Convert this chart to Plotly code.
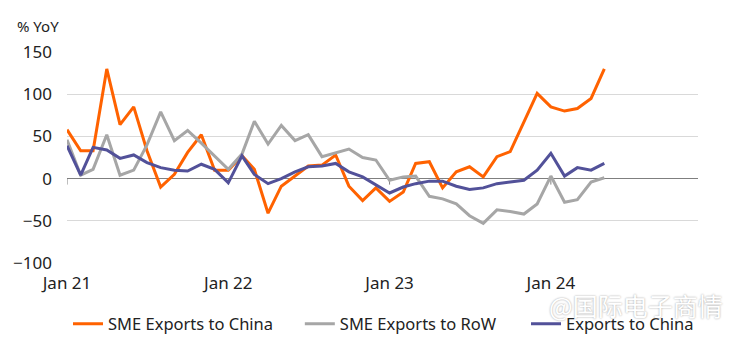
import pandas as pd
import plotly.graph_objects as go

# Monthly observations, Jan 2021 - May 2024 (% YoY)
months = pd.date_range("2021-01-01", periods=41, freq="MS")

sme_china = [58, 33, 33, 130, 64, 85, 33, -10, 5, 31, 52, 10, 10, 27, 11, -41,
             -9, 3, 15, 16, 28, -9, -26, -11, -27, -16, 18, 20, -11, 8, 14, 2,
             26, 32, 68, 101, 85, 80, 83, 95, 130]
sme_row = [46, 4, 11, 52, 4, 10, 40, 79, 45, 57, 42, 27, 11, 29, 68, 41,
           63, 45, 52, 26, 31, 35, 25, 22, -2, 2, 3, -21, -24, -30, -44, -53,
           -37, -39, -42, -30, 3, -28, -25, -4, 1]
exports_china = [39, 4, 37, 34, 24, 28, 19, 13, 10, 9, 17, 11, -5, 27, 5, -6,
                 0, 8, 14, 15, 18, 8, 2, -7, -17, -10, -6, -3, -3, -9, -13, -11,
                 -6, -4, -2, 10, 30, 3, 13, 10, 18]

tick_dates = ["2021-01-01", "2022-01-01", "2023-01-01", "2024-01-01"]
tick_text = ["Jan 21", "Jan 22", "Jan 23", "Jan 24"]
y_ticks = [-100, -50, 0, 50, 100, 150]

FONT = "Noto Sans"
series = [
    ("SME Exports to China", sme_china, "#FF6200", "legend", 0.0914),
    ("SME Exports to RoW", sme_row, "#A6A6A6", "legend2", 0.403),
    ("Exports to China", exports_china, "#525199", "legend3", 0.707),
]

fig = go.Figure()
legend_layouts = {}
for name, vals, color, leg, lx in series:
    fig.add_trace(go.Scatter(
        x=months, y=vals, name=name, mode="lines", legend=leg,
        line=dict(color=color, width=3),
    ))
    # one single-entry legend per series, spaced along the bottom
    legend_layouts[leg] = dict(
        orientation="h", xref="container", x=lx, xanchor="left",
        yref="container", y=0.055, yanchor="middle",
        font=dict(size=16.5, color="#222222"), itemwidth=30,
    )

# small downward ticks on the zero line at each January
for d in tick_dates:
    fig.add_shape(
        type="line", xref="x", yref="y", x0=d, x1=d,
        ysizemode="pixel", yanchor=0, y0=0, y1=-6,
        line=dict(color="#7F7F7F", width=1), layer="below",
    )

fig.update_layout(
    width=744, height=343,
    margin=dict(l=67, r=46, t=52, b=80),
    paper_bgcolor="white", plot_bgcolor="white",
    font=dict(family=FONT, size=17, color="#222222"),
    showlegend=True,
    **legend_layouts,
    xaxis=dict(
        type="date",
        range=["2021-01-01", "2024-11-29"],
        tickvals=tick_dates, ticktext=tick_text,
        showgrid=False, zeroline=False, showline=False, ticks="",
        ticklabelstandoff=8,
    ),
    yaxis=dict(
        range=[-100, 150], tickvals=y_ticks,
        showgrid=True, gridcolor="#D9D9D9", gridwidth=1,
        zeroline=True, zerolinecolor="#7F7F7F", zerolinewidth=1,
        showline=False, ticks="", ticklabelstandoff=14,
    ),
    annotations=[
        dict(text="% YoY", xref="paper", yref="paper", x=-0.082, y=1.125,
             xanchor="left", yanchor="middle", showarrow=False,
             font=dict(size=15, color="#222222")),
        dict(text="@国际电子商情", xref="paper", yref="paper",
             x=1.043, y=-0.199, xanchor="right", yanchor="middle",
             showarrow=False,
             font=dict(family="Noto Sans CJK SC", size=25, color="#FFFFFF",
                       shadow="0px 0px 2px #9A9A9A")),
    ],
)

fig.write_html("out.html")
